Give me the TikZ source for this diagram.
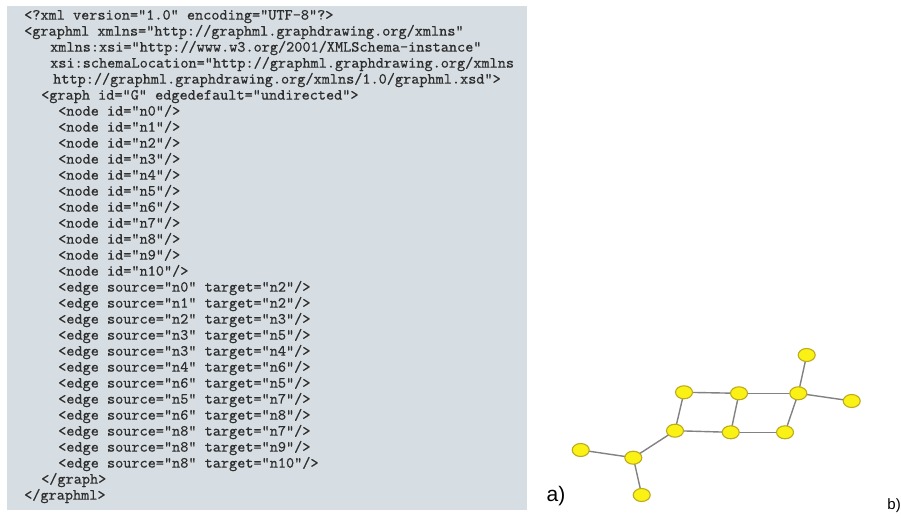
\documentclass[tikz,border=0pt]{standalone}
\usepackage{fontspec}
\setmainfont{Liberation Sans}
\newfontfamily\codefont{lmmono10-regular}[Extension=.otf, FakeBold=0.5]
\usetikzlibrary{shapes.geometric}
\definecolor{codebg}{RGB}{215,222,227}
\definecolor{codetxt}{RGB}{45,45,45}
\definecolor{nodefill}{RGB}{250,242,20}
\definecolor{nodeline}{RGB}{190,170,30}
\definecolor{edgecol}{RGB}{130,130,130}
\tikzset{
  codeline/.style={anchor=mid west, inner sep=0pt, font=\codefont\fontsize{15.5}{16}\selectfont, text=codetxt},
  gnode/.style={ellipse, draw=nodeline, fill=nodefill, line width=1.1pt, minimum width=17pt, minimum height=13pt, inner sep=0pt},
  gedge/.style={draw=edgecol, line width=1.4pt},
  lbl/.style={inner sep=0pt, text=black}
}
\begin{document}
\begin{tikzpicture}[x=1pt,y=-1pt]
\useasboundingbox (0,0) rectangle (901,518);
\fill[white] (0,0) rectangle (901,518);
\fill[codebg] (7,6) rectangle (527,510);
% code lines
\node[codeline] (l0) at (24,17) {<?xml version="1.0" encoding="UTF-8"?>};
\node[codeline] (l1) at (24,33) {<graphml xmlns="http://graphml.graphdrawing.org/xmlns"};
\node[codeline] (l2) at (50,49) {xmlns:xsi="http://www.w3.org/2001/XMLSchema-instance"};
\node[codeline] (l3) at (50,65) {xsi:schemaLocation="http://graphml.graphdrawing.org/xmlns};
\node[codeline] (l4) at (53,81) {http://graphml.graphdrawing.org/xmlns/1.0/graphml.xsd">};
\node[codeline] (l5) at (41,97) {<graph id="G" edgedefault="undirected">};
\node[codeline] (l6) at (58,113) {<node id="n0"/>};
\node[codeline] (l7) at (58,129) {<node id="n1"/>};
\node[codeline] (l8) at (58,145) {<node id="n2"/>};
\node[codeline] (l9) at (58,161) {<node id="n3"/>};
\node[codeline] (l10) at (58,177) {<node id="n4"/>};
\node[codeline] (l11) at (58,193) {<node id="n5"/>};
\node[codeline] (l12) at (58,209) {<node id="n6"/>};
\node[codeline] (l13) at (58,225) {<node id="n7"/>};
\node[codeline] (l14) at (58,241) {<node id="n8"/>};
\node[codeline] (l15) at (58,257) {<node id="n9"/>};
\node[codeline] (l16) at (58,273) {<node id="n10"/>};
\node[codeline] (l17) at (58,289) {<edge source="n0" target="n2"/>};
\node[codeline] (l18) at (58,305) {<edge source="n1" target="n2"/>};
\node[codeline] (l19) at (58,321) {<edge source="n2" target="n3"/>};
\node[codeline] (l20) at (58,337) {<edge source="n3" target="n5"/>};
\node[codeline] (l21) at (58,353) {<edge source="n3" target="n4"/>};
\node[codeline] (l22) at (58,369) {<edge source="n4" target="n6"/>};
\node[codeline] (l23) at (58,385) {<edge source="n6" target="n5"/>};
\node[codeline] (l24) at (58,401) {<edge source="n5" target="n7"/>};
\node[codeline] (l25) at (58,417) {<edge source="n6" target="n8"/>};
\node[codeline] (l26) at (58,433) {<edge source="n8" target="n7"/>};
\node[codeline] (l27) at (58,449) {<edge source="n8" target="n9"/>};
\node[codeline] (l28) at (58,465) {<edge source="n8" target="n10"/>};
\node[codeline] (l29) at (41,481) {</graph>};
\node[codeline] (l30) at (24,497) {</graphml>};
% graph
\coordinate (p0) at (580.7,450);
\coordinate (p1) at (641.7,495);
\coordinate (p2) at (633.3,457.7);
\coordinate (p3) at (675,430.7);
\coordinate (p4) at (684,392.3);
\coordinate (p5) at (730.7,432.3);
\coordinate (p6) at (739,393.3);
\coordinate (p7) at (785,432.3);
\coordinate (p8) at (798.3,393.3);
\coordinate (p9) at (806.7,355);
\coordinate (p10) at (851.7,401);
\foreach \a/\b in {0/2,1/2,2/3,3/5,3/4,4/6,6/5,5/7,6/8,8/7,8/9,8/10}
  \draw[gedge] (p\a) -- (p\b);
\foreach \i in {0,...,10}
  \node[gnode] (n\i) at (p\i) {};
% labels
\node[lbl, font=\fontsize{21}{24}\selectfont] (la) at (556,496) {a)};
\node[lbl, font=\fontsize{15}{18}\selectfont, anchor=east] (lb) at (901,506) {b)};
\end{tikzpicture}
\end{document}
